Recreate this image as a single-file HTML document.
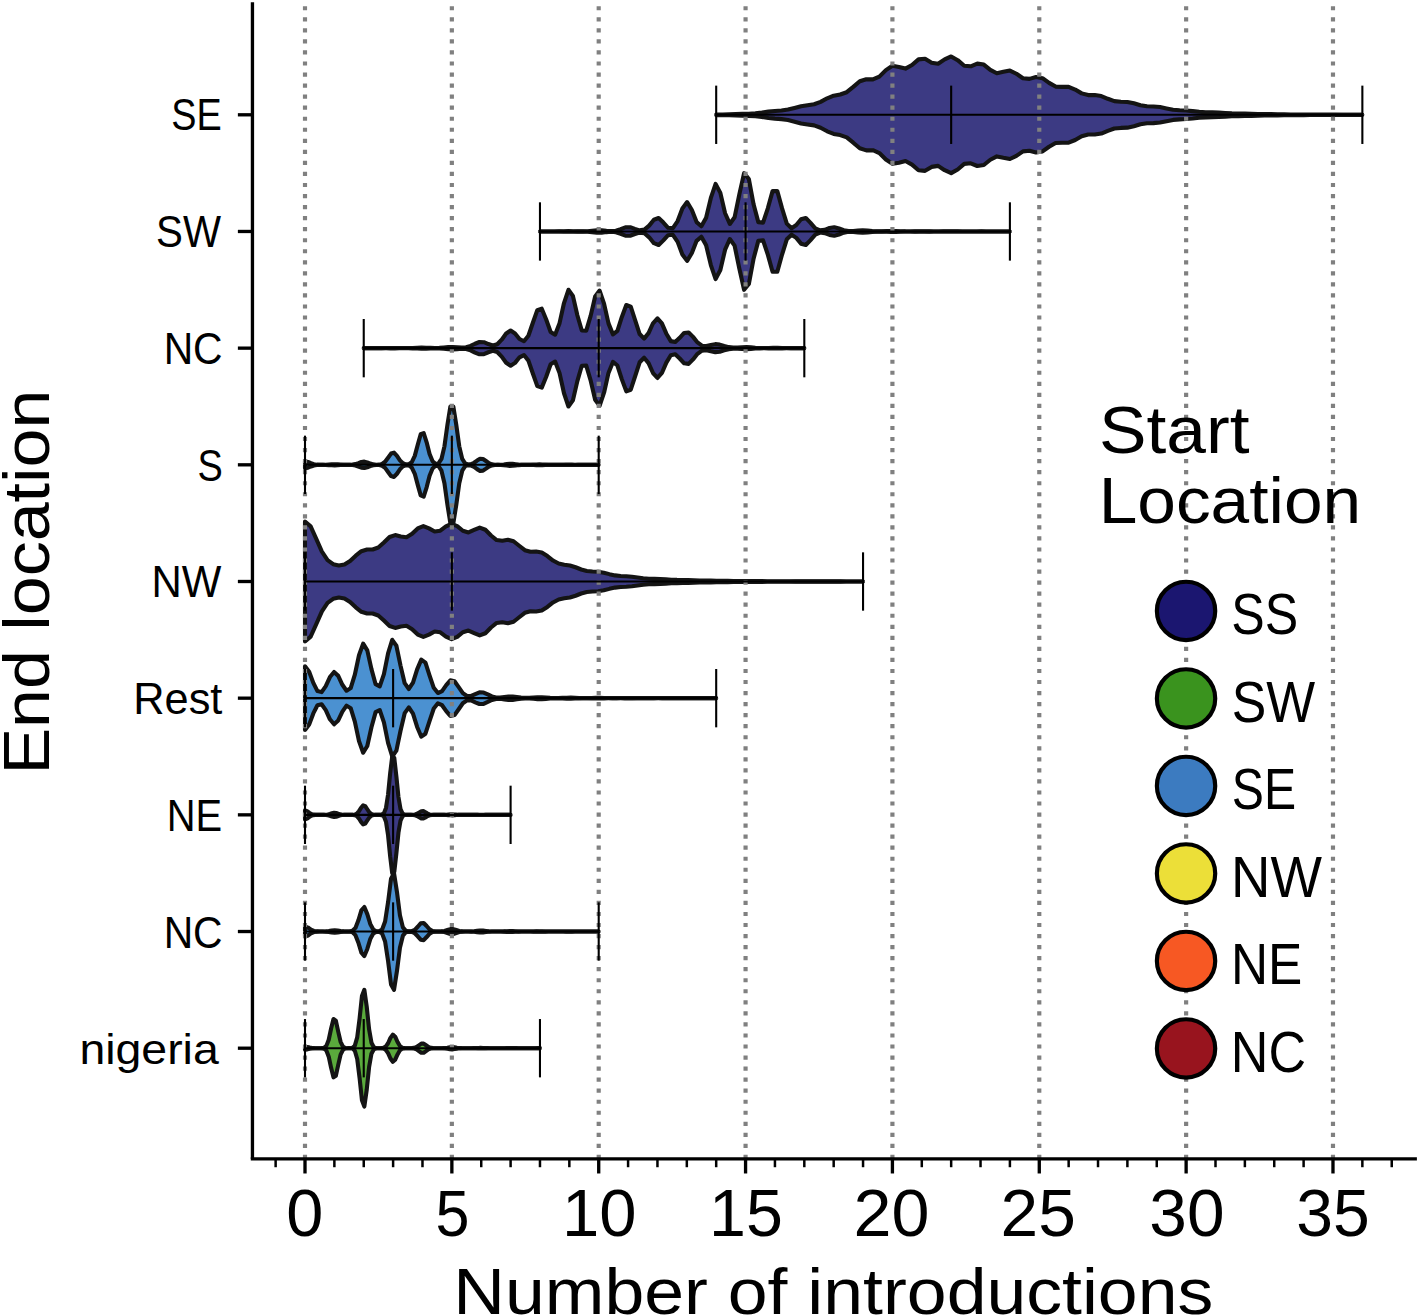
<!DOCTYPE html>
<html><head><meta charset="utf-8"><title>Violin plot</title>
<style>html,body{margin:0;padding:0;background:#fff;}svg{display:block;}</style></head>
<body><svg width="1417" height="1316" viewBox="0 0 1417 1316"><rect width="1417" height="1316" fill="#fff"/><g><path d="M716.19 114.5 L722.72 114.44 L729.25 114.33 L735.77 114.14 L742.3 113.92 L748.83 113.69 L755.36 113.3 L761.88 112.57 L768.41 111.65 L774.94 110.96 L781.46 110.48 L787.99 109.58 L794.52 107.91 L801.04 106.18 L807.57 105.18 L814.1 104.22 L820.62 101.85 L827.15 98.31 L833.68 95.68 L840.2 94.51 L846.73 92.21 L853.26 86.89 L859.79 81.28 L866.31 79.25 L872.84 79.42 L879.37 76.59 L885.89 70.1 L892.42 65.79 L898.95 66.95 L905.47 68.58 L912 65.02 L918.53 59.36 L925.05 58.73 L931.58 62.71 L938.11 63.74 L944.64 59.37 L951.16 56.46 L957.69 60.16 L964.22 65.75 L970.74 66.3 L977.27 63.6 L983.8 64.57 L990.32 69.88 L996.85 73.21 L1003.38 71.8 L1009.9 70.57 L1016.43 73.76 L1022.96 78.19 L1029.48 78.86 L1036.01 77.09 L1042.54 78.18 L1049.07 82.86 L1055.59 86.58 L1062.12 86.92 L1068.65 86.91 L1075.17 89.6 L1081.7 93.39 L1088.23 95.09 L1094.75 95.03 L1101.28 96.03 L1107.81 98.77 L1114.33 101.09 L1120.86 101.68 L1127.39 101.93 L1133.91 103.33 L1140.44 105.27 L1146.97 106.31 L1153.5 106.5 L1160.02 107.07 L1166.55 108.42 L1173.08 109.69 L1179.6 110.26 L1186.13 110.54 L1192.66 111.1 L1199.18 111.82 L1205.71 112.26 L1212.24 112.4 L1218.76 112.59 L1225.29 112.99 L1231.82 113.35 L1238.35 113.51 L1244.87 113.6 L1251.4 113.76 L1257.93 113.98 L1264.45 114.12 L1270.98 114.17 L1277.51 114.23 L1284.03 114.33 L1290.56 114.43 L1297.09 114.48 L1303.61 114.5 L1310.14 114.54 L1316.67 114.59 L1323.19 114.63 L1329.72 114.64 L1336.25 114.66 L1342.78 114.69 L1349.3 114.72 L1355.83 114.74 L1362.36 114.75 L1362.36 114.85 L1355.83 114.86 L1349.3 114.88 L1342.78 114.91 L1336.25 114.94 L1329.72 114.96 L1323.19 114.97 L1316.67 115.01 L1310.14 115.06 L1303.61 115.1 L1297.09 115.12 L1290.56 115.17 L1284.03 115.27 L1277.51 115.37 L1270.98 115.43 L1264.45 115.48 L1257.93 115.62 L1251.4 115.84 L1244.87 116 L1238.35 116.09 L1231.82 116.25 L1225.29 116.61 L1218.76 117.01 L1212.24 117.2 L1205.71 117.34 L1199.18 117.78 L1192.66 118.5 L1186.13 119.06 L1179.6 119.34 L1173.08 119.91 L1166.55 121.18 L1160.02 122.53 L1153.5 123.1 L1146.97 123.29 L1140.44 124.33 L1133.91 126.27 L1127.39 127.67 L1120.86 127.92 L1114.33 128.51 L1107.81 130.83 L1101.28 133.57 L1094.75 134.57 L1088.23 134.51 L1081.7 136.21 L1075.17 140 L1068.65 142.69 L1062.12 142.68 L1055.59 143.02 L1049.07 146.74 L1042.54 151.42 L1036.01 152.51 L1029.48 150.74 L1022.96 151.41 L1016.43 155.84 L1009.9 159.03 L1003.38 157.8 L996.85 156.39 L990.32 159.72 L983.8 165.03 L977.27 166 L970.74 163.3 L964.22 163.85 L957.69 169.44 L951.16 173.14 L944.64 170.23 L938.11 165.86 L931.58 166.89 L925.05 170.87 L918.53 170.24 L912 164.58 L905.47 161.02 L898.95 162.65 L892.42 163.81 L885.89 159.5 L879.37 153.01 L872.84 150.18 L866.31 150.35 L859.79 148.32 L853.26 142.71 L846.73 137.39 L840.2 135.09 L833.68 133.92 L827.15 131.29 L820.62 127.75 L814.1 125.38 L807.57 124.42 L801.04 123.42 L794.52 121.69 L787.99 120.02 L781.46 119.12 L774.94 118.64 L768.41 117.95 L761.88 117.03 L755.36 116.3 L748.83 115.91 L742.3 115.68 L735.77 115.46 L729.25 115.27 L722.72 115.16 L716.19 115.1Z" fill="#3c3a83"/><path d="M716.19 114.8 L716.19 114.5 L722.72 114.44 L729.25 114.33 L735.77 114.14 L742.3 113.92 L748.83 113.69 L755.36 113.3 L761.88 112.57 L768.41 111.65 L774.94 110.96 L781.46 110.48 L787.99 109.58 L794.52 107.91 L801.04 106.18 L807.57 105.18 L814.1 104.22 L820.62 101.85 L827.15 98.31 L833.68 95.68 L840.2 94.51 L846.73 92.21 L853.26 86.89 L859.79 81.28 L866.31 79.25 L872.84 79.42 L879.37 76.59 L885.89 70.1 L892.42 65.79 L898.95 66.95 L905.47 68.58 L912 65.02 L918.53 59.36 L925.05 58.73 L931.58 62.71 L938.11 63.74 L944.64 59.37 L951.16 56.46 L957.69 60.16 L964.22 65.75 L970.74 66.3 L977.27 63.6 L983.8 64.57 L990.32 69.88 L996.85 73.21 L1003.38 71.8 L1009.9 70.57 L1016.43 73.76 L1022.96 78.19 L1029.48 78.86 L1036.01 77.09 L1042.54 78.18 L1049.07 82.86 L1055.59 86.58 L1062.12 86.92 L1068.65 86.91 L1075.17 89.6 L1081.7 93.39 L1088.23 95.09 L1094.75 95.03 L1101.28 96.03 L1107.81 98.77 L1114.33 101.09 L1120.86 101.68 L1127.39 101.93 L1133.91 103.33 L1140.44 105.27 L1146.97 106.31 L1153.5 106.5 L1160.02 107.07 L1166.55 108.42 L1173.08 109.69 L1179.6 110.26 L1186.13 110.54 L1192.66 111.1 L1199.18 111.82 L1205.71 112.26 L1212.24 112.4 L1218.76 112.59 L1225.29 112.99 L1231.82 113.35 L1238.35 113.51 L1244.87 113.6 L1251.4 113.76 L1257.93 113.98 L1264.45 114.12 L1270.98 114.17 L1277.51 114.23 L1284.03 114.33 L1290.56 114.43 L1297.09 114.48 L1303.61 114.5 L1310.14 114.54 L1316.67 114.59 L1323.19 114.63 L1329.72 114.64 L1336.25 114.66 L1342.78 114.69 L1349.3 114.72 L1355.83 114.74 L1362.36 114.75 L1362.36 114.8" fill="none" stroke="#141414" stroke-width="4.1" stroke-linejoin="round"/><path d="M716.19 114.8 L716.19 115.1 L722.72 115.16 L729.25 115.27 L735.77 115.46 L742.3 115.68 L748.83 115.91 L755.36 116.3 L761.88 117.03 L768.41 117.95 L774.94 118.64 L781.46 119.12 L787.99 120.02 L794.52 121.69 L801.04 123.42 L807.57 124.42 L814.1 125.38 L820.62 127.75 L827.15 131.29 L833.68 133.92 L840.2 135.09 L846.73 137.39 L853.26 142.71 L859.79 148.32 L866.31 150.35 L872.84 150.18 L879.37 153.01 L885.89 159.5 L892.42 163.81 L898.95 162.65 L905.47 161.02 L912 164.58 L918.53 170.24 L925.05 170.87 L931.58 166.89 L938.11 165.86 L944.64 170.23 L951.16 173.14 L957.69 169.44 L964.22 163.85 L970.74 163.3 L977.27 166 L983.8 165.03 L990.32 159.72 L996.85 156.39 L1003.38 157.8 L1009.9 159.03 L1016.43 155.84 L1022.96 151.41 L1029.48 150.74 L1036.01 152.51 L1042.54 151.42 L1049.07 146.74 L1055.59 143.02 L1062.12 142.68 L1068.65 142.69 L1075.17 140 L1081.7 136.21 L1088.23 134.51 L1094.75 134.57 L1101.28 133.57 L1107.81 130.83 L1114.33 128.51 L1120.86 127.92 L1127.39 127.67 L1133.91 126.27 L1140.44 124.33 L1146.97 123.29 L1153.5 123.1 L1160.02 122.53 L1166.55 121.18 L1173.08 119.91 L1179.6 119.34 L1186.13 119.06 L1192.66 118.5 L1199.18 117.78 L1205.71 117.34 L1212.24 117.2 L1218.76 117.01 L1225.29 116.61 L1231.82 116.25 L1238.35 116.09 L1244.87 116 L1251.4 115.84 L1257.93 115.62 L1264.45 115.48 L1270.98 115.43 L1277.51 115.37 L1284.03 115.27 L1290.56 115.17 L1297.09 115.12 L1303.61 115.1 L1310.14 115.06 L1316.67 115.01 L1323.19 114.97 L1329.72 114.96 L1336.25 114.94 L1342.78 114.91 L1349.3 114.88 L1355.83 114.86 L1362.36 114.85 L1362.36 114.8" fill="none" stroke="#141414" stroke-width="4.1" stroke-linejoin="round"/><path d="M539.97 231.43 L544.71 231.44 L549.46 231.46 L554.21 231.45 L558.96 231.39 L563.7 231.27 L568.45 231.17 L573.2 231.22 L577.94 231.35 L582.69 231.39 L587.44 231.21 L592.18 230.74 L596.93 230.28 L601.68 230.36 L606.42 230.87 L611.17 231.16 L615.92 230.72 L620.66 229.19 L625.41 227.34 L630.16 227.19 L634.9 228.91 L639.65 230.35 L644.4 229.65 L649.15 225.63 L653.89 219.75 L658.64 217.99 L663.39 222.58 L668.13 227.76 L672.88 228.12 L677.63 221.07 L682.37 208.43 L687.12 202.05 L691.87 209.96 L696.61 222.09 L701.36 226.22 L706.11 217.66 L710.85 197.91 L715.6 183.9 L720.35 192.88 L725.09 213.26 L729.84 223.94 L734.59 217.31 L739.33 194.37 L744.08 173.13 L748.83 178.93 L753.58 204.28 L758.32 222.1 L763.07 222.6 L767.82 208.29 L772.56 191.15 L777.31 191.16 L782.06 208.39 L786.8 223.63 L791.55 228.22 L796.3 225.05 L801.04 219.28 L805.79 217.94 L810.54 222.88 L815.28 228.29 L820.03 230.4 L824.78 229.8 L829.52 228.02 L834.27 227.22 L839.02 228.47 L843.77 230.25 L848.51 231.11 L853.26 231.08 L858.01 230.61 L862.75 230.29 L867.5 230.55 L872.25 231.06 L876.99 231.34 L881.74 231.34 L886.49 231.14 L891.23 230.97 L895.98 231.04 L900.73 231.26 L905.47 231.41 L910.22 231.43 L914.97 231.36 L919.71 231.28 L924.46 231.28 L929.21 231.37 L933.95 231.44 L938.7 231.45 L943.45 231.42 L948.2 231.38 L952.94 231.38 L957.69 231.41 L962.44 231.45 L967.18 231.47 L971.93 231.45 L976.68 231.43 L981.42 231.42 L986.17 231.44 L990.92 231.46 L995.66 231.47 L1000.41 231.46 L1005.16 231.44 L1009.9 231.43 L1009.9 231.52 L1005.16 231.51 L1000.41 231.49 L995.66 231.48 L990.92 231.49 L986.17 231.51 L981.42 231.53 L976.68 231.52 L971.93 231.5 L967.18 231.48 L962.44 231.5 L957.69 231.54 L952.94 231.57 L948.2 231.57 L943.45 231.53 L938.7 231.5 L933.95 231.51 L929.21 231.58 L924.46 231.67 L919.71 231.67 L914.97 231.59 L910.22 231.52 L905.47 231.54 L900.73 231.69 L895.98 231.91 L891.23 231.98 L886.49 231.81 L881.74 231.61 L876.99 231.61 L872.25 231.89 L867.5 232.4 L862.75 232.66 L858.01 232.34 L853.26 231.87 L848.51 231.84 L843.77 232.7 L839.02 234.48 L834.27 235.73 L829.52 234.93 L824.78 233.15 L820.03 232.55 L815.28 234.66 L810.54 240.07 L805.79 245.01 L801.04 243.67 L796.3 237.9 L791.55 234.73 L786.8 239.32 L782.06 254.56 L777.31 271.79 L772.56 271.8 L767.82 254.66 L763.07 240.35 L758.32 240.85 L753.58 258.67 L748.83 284.02 L744.08 289.81 L739.33 268.58 L734.59 245.64 L729.84 239.01 L725.09 249.69 L720.35 270.07 L715.6 279.05 L710.85 265.04 L706.11 245.29 L701.36 236.73 L696.61 240.86 L691.87 252.99 L687.12 260.9 L682.37 254.52 L677.63 241.88 L672.88 234.83 L668.13 235.19 L663.39 240.37 L658.64 244.96 L653.89 243.2 L649.15 237.32 L644.4 233.3 L639.65 232.6 L634.9 234.04 L630.16 235.76 L625.41 235.61 L620.66 233.76 L615.92 232.23 L611.17 231.79 L606.42 232.08 L601.68 232.59 L596.93 232.67 L592.18 232.21 L587.44 231.74 L582.69 231.56 L577.94 231.6 L573.2 231.73 L568.45 231.78 L563.7 231.68 L558.96 231.56 L554.21 231.5 L549.46 231.49 L544.71 231.51 L539.97 231.52Z" fill="#3c3a83"/><path d="M539.97 231.47 L539.97 231.43 L544.71 231.44 L549.46 231.46 L554.21 231.45 L558.96 231.39 L563.7 231.27 L568.45 231.17 L573.2 231.22 L577.94 231.35 L582.69 231.39 L587.44 231.21 L592.18 230.74 L596.93 230.28 L601.68 230.36 L606.42 230.87 L611.17 231.16 L615.92 230.72 L620.66 229.19 L625.41 227.34 L630.16 227.19 L634.9 228.91 L639.65 230.35 L644.4 229.65 L649.15 225.63 L653.89 219.75 L658.64 217.99 L663.39 222.58 L668.13 227.76 L672.88 228.12 L677.63 221.07 L682.37 208.43 L687.12 202.05 L691.87 209.96 L696.61 222.09 L701.36 226.22 L706.11 217.66 L710.85 197.91 L715.6 183.9 L720.35 192.88 L725.09 213.26 L729.84 223.94 L734.59 217.31 L739.33 194.37 L744.08 173.13 L748.83 178.93 L753.58 204.28 L758.32 222.1 L763.07 222.6 L767.82 208.29 L772.56 191.15 L777.31 191.16 L782.06 208.39 L786.8 223.63 L791.55 228.22 L796.3 225.05 L801.04 219.28 L805.79 217.94 L810.54 222.88 L815.28 228.29 L820.03 230.4 L824.78 229.8 L829.52 228.02 L834.27 227.22 L839.02 228.47 L843.77 230.25 L848.51 231.11 L853.26 231.08 L858.01 230.61 L862.75 230.29 L867.5 230.55 L872.25 231.06 L876.99 231.34 L881.74 231.34 L886.49 231.14 L891.23 230.97 L895.98 231.04 L900.73 231.26 L905.47 231.41 L910.22 231.43 L914.97 231.36 L919.71 231.28 L924.46 231.28 L929.21 231.37 L933.95 231.44 L938.7 231.45 L943.45 231.42 L948.2 231.38 L952.94 231.38 L957.69 231.41 L962.44 231.45 L967.18 231.47 L971.93 231.45 L976.68 231.43 L981.42 231.42 L986.17 231.44 L990.92 231.46 L995.66 231.47 L1000.41 231.46 L1005.16 231.44 L1009.9 231.43 L1009.9 231.47" fill="none" stroke="#141414" stroke-width="4.1" stroke-linejoin="round"/><path d="M539.97 231.47 L539.97 231.52 L544.71 231.51 L549.46 231.49 L554.21 231.5 L558.96 231.56 L563.7 231.68 L568.45 231.78 L573.2 231.73 L577.94 231.6 L582.69 231.56 L587.44 231.74 L592.18 232.21 L596.93 232.67 L601.68 232.59 L606.42 232.08 L611.17 231.79 L615.92 232.23 L620.66 233.76 L625.41 235.61 L630.16 235.76 L634.9 234.04 L639.65 232.6 L644.4 233.3 L649.15 237.32 L653.89 243.2 L658.64 244.96 L663.39 240.37 L668.13 235.19 L672.88 234.83 L677.63 241.88 L682.37 254.52 L687.12 260.9 L691.87 252.99 L696.61 240.86 L701.36 236.73 L706.11 245.29 L710.85 265.04 L715.6 279.05 L720.35 270.07 L725.09 249.69 L729.84 239.01 L734.59 245.64 L739.33 268.58 L744.08 289.81 L748.83 284.02 L753.58 258.67 L758.32 240.85 L763.07 240.35 L767.82 254.66 L772.56 271.8 L777.31 271.79 L782.06 254.56 L786.8 239.32 L791.55 234.73 L796.3 237.9 L801.04 243.67 L805.79 245.01 L810.54 240.07 L815.28 234.66 L820.03 232.55 L824.78 233.15 L829.52 234.93 L834.27 235.73 L839.02 234.48 L843.77 232.7 L848.51 231.84 L853.26 231.87 L858.01 232.34 L862.75 232.66 L867.5 232.4 L872.25 231.89 L876.99 231.61 L881.74 231.61 L886.49 231.81 L891.23 231.98 L895.98 231.91 L900.73 231.69 L905.47 231.54 L910.22 231.52 L914.97 231.59 L919.71 231.67 L924.46 231.67 L929.21 231.58 L933.95 231.51 L938.7 231.5 L943.45 231.53 L948.2 231.57 L952.94 231.57 L957.69 231.54 L962.44 231.5 L967.18 231.48 L971.93 231.5 L976.68 231.52 L981.42 231.53 L986.17 231.51 L990.92 231.49 L995.66 231.48 L1000.41 231.49 L1005.16 231.51 L1009.9 231.52 L1009.9 231.47" fill="none" stroke="#141414" stroke-width="4.1" stroke-linejoin="round"/><path d="M363.74 348.1 L368.19 348.11 L372.64 348.12 L377.09 348.12 L381.54 348.09 L385.99 348.02 L390.44 347.96 L394.89 347.95 L399.34 348 L403.79 348.06 L408.24 348.05 L412.69 347.94 L417.14 347.76 L421.59 347.65 L426.04 347.7 L430.49 347.86 L434.94 347.95 L439.39 347.84 L443.84 347.48 L448.29 347.08 L452.75 346.95 L457.2 347.2 L461.65 347.49 L466.1 347.23 L470.55 345.94 L475 343.75 L479.45 342 L483.9 342.21 L488.35 344.05 L492.8 345.46 L497.25 344.29 L501.7 339.68 L506.15 333.55 L510.6 330.57 L515.05 333.45 L519.5 339.01 L523.95 341.22 L528.4 335.71 L532.85 322.76 L537.3 310.13 L541.75 308.67 L546.2 319.56 L550.65 332.04 L555.1 334.69 L559.55 323.18 L564 303.04 L568.45 289.81 L572.9 295.89 L577.35 315.21 L581.8 330.55 L586.25 330.68 L590.7 315.62 L595.15 296.57 L599.6 290.57 L604.05 303.61 L608.5 323.39 L612.95 334.37 L617.4 330.78 L621.85 316.94 L626.3 305 L630.75 306.59 L635.2 320.3 L639.65 334.02 L644.1 338.59 L648.55 333.13 L653 323.28 L657.45 318.33 L661.9 323.36 L666.35 333.68 L670.8 341.12 L675.25 342.03 L679.7 337.81 L684.15 332.97 L688.6 332.43 L693.05 336.88 L697.5 342.46 L701.95 345.67 L706.4 346.08 L710.85 345.01 L715.3 344.16 L719.75 344.59 L724.2 345.94 L728.65 347.15 L733.1 347.64 L737.55 347.55 L742 347.25 L746.46 347.15 L750.91 347.38 L755.36 347.73 L759.81 347.97 L764.26 348.01 L768.71 347.93 L773.16 347.85 L777.61 347.86 L782.06 347.96 L786.51 348.06 L790.96 348.11 L795.41 348.12 L799.86 348.11 L804.31 348.1 L804.31 348.2 L799.86 348.19 L795.41 348.18 L790.96 348.19 L786.51 348.24 L782.06 348.34 L777.61 348.44 L773.16 348.45 L768.71 348.37 L764.26 348.29 L759.81 348.33 L755.36 348.57 L750.91 348.92 L746.46 349.15 L742 349.05 L737.55 348.75 L733.1 348.66 L728.65 349.15 L724.2 350.36 L719.75 351.71 L715.3 352.14 L710.85 351.29 L706.4 350.22 L701.95 350.63 L697.5 353.84 L693.05 359.42 L688.6 363.87 L684.15 363.33 L679.7 358.49 L675.25 354.27 L670.8 355.18 L666.35 362.62 L661.9 372.94 L657.45 377.97 L653 373.02 L648.55 363.17 L644.1 357.71 L639.65 362.28 L635.2 376 L630.75 389.71 L626.3 391.3 L621.85 379.36 L617.4 365.52 L612.95 361.93 L608.5 372.91 L604.05 392.69 L599.6 405.73 L595.15 399.73 L590.7 380.68 L586.25 365.62 L581.8 365.75 L577.35 381.09 L572.9 400.41 L568.45 406.49 L564 393.26 L559.55 373.12 L555.1 361.61 L550.65 364.26 L546.2 376.74 L541.75 387.63 L537.3 386.17 L532.85 373.54 L528.4 360.59 L523.95 355.08 L519.5 357.29 L515.05 362.85 L510.6 365.73 L506.15 362.75 L501.7 356.62 L497.25 352.01 L492.8 350.84 L488.35 352.25 L483.9 354.09 L479.45 354.3 L475 352.55 L470.55 350.36 L466.1 349.07 L461.65 348.81 L457.2 349.1 L452.75 349.35 L448.29 349.22 L443.84 348.82 L439.39 348.46 L434.94 348.35 L430.49 348.44 L426.04 348.6 L421.59 348.65 L417.14 348.54 L412.69 348.36 L408.24 348.25 L403.79 348.24 L399.34 348.3 L394.89 348.35 L390.44 348.34 L385.99 348.28 L381.54 348.21 L377.09 348.18 L372.64 348.18 L368.19 348.19 L363.74 348.2Z" fill="#3c3a83"/><path d="M363.74 348.15 L363.74 348.1 L368.19 348.11 L372.64 348.12 L377.09 348.12 L381.54 348.09 L385.99 348.02 L390.44 347.96 L394.89 347.95 L399.34 348 L403.79 348.06 L408.24 348.05 L412.69 347.94 L417.14 347.76 L421.59 347.65 L426.04 347.7 L430.49 347.86 L434.94 347.95 L439.39 347.84 L443.84 347.48 L448.29 347.08 L452.75 346.95 L457.2 347.2 L461.65 347.49 L466.1 347.23 L470.55 345.94 L475 343.75 L479.45 342 L483.9 342.21 L488.35 344.05 L492.8 345.46 L497.25 344.29 L501.7 339.68 L506.15 333.55 L510.6 330.57 L515.05 333.45 L519.5 339.01 L523.95 341.22 L528.4 335.71 L532.85 322.76 L537.3 310.13 L541.75 308.67 L546.2 319.56 L550.65 332.04 L555.1 334.69 L559.55 323.18 L564 303.04 L568.45 289.81 L572.9 295.89 L577.35 315.21 L581.8 330.55 L586.25 330.68 L590.7 315.62 L595.15 296.57 L599.6 290.57 L604.05 303.61 L608.5 323.39 L612.95 334.37 L617.4 330.78 L621.85 316.94 L626.3 305 L630.75 306.59 L635.2 320.3 L639.65 334.02 L644.1 338.59 L648.55 333.13 L653 323.28 L657.45 318.33 L661.9 323.36 L666.35 333.68 L670.8 341.12 L675.25 342.03 L679.7 337.81 L684.15 332.97 L688.6 332.43 L693.05 336.88 L697.5 342.46 L701.95 345.67 L706.4 346.08 L710.85 345.01 L715.3 344.16 L719.75 344.59 L724.2 345.94 L728.65 347.15 L733.1 347.64 L737.55 347.55 L742 347.25 L746.46 347.15 L750.91 347.38 L755.36 347.73 L759.81 347.97 L764.26 348.01 L768.71 347.93 L773.16 347.85 L777.61 347.86 L782.06 347.96 L786.51 348.06 L790.96 348.11 L795.41 348.12 L799.86 348.11 L804.31 348.1 L804.31 348.15" fill="none" stroke="#141414" stroke-width="4.1" stroke-linejoin="round"/><path d="M363.74 348.15 L363.74 348.2 L368.19 348.19 L372.64 348.18 L377.09 348.18 L381.54 348.21 L385.99 348.28 L390.44 348.34 L394.89 348.35 L399.34 348.3 L403.79 348.24 L408.24 348.25 L412.69 348.36 L417.14 348.54 L421.59 348.65 L426.04 348.6 L430.49 348.44 L434.94 348.35 L439.39 348.46 L443.84 348.82 L448.29 349.22 L452.75 349.35 L457.2 349.1 L461.65 348.81 L466.1 349.07 L470.55 350.36 L475 352.55 L479.45 354.3 L483.9 354.09 L488.35 352.25 L492.8 350.84 L497.25 352.01 L501.7 356.62 L506.15 362.75 L510.6 365.73 L515.05 362.85 L519.5 357.29 L523.95 355.08 L528.4 360.59 L532.85 373.54 L537.3 386.17 L541.75 387.63 L546.2 376.74 L550.65 364.26 L555.1 361.61 L559.55 373.12 L564 393.26 L568.45 406.49 L572.9 400.41 L577.35 381.09 L581.8 365.75 L586.25 365.62 L590.7 380.68 L595.15 399.73 L599.6 405.73 L604.05 392.69 L608.5 372.91 L612.95 361.93 L617.4 365.52 L621.85 379.36 L626.3 391.3 L630.75 389.71 L635.2 376 L639.65 362.28 L644.1 357.71 L648.55 363.17 L653 373.02 L657.45 377.97 L661.9 372.94 L666.35 362.62 L670.8 355.18 L675.25 354.27 L679.7 358.49 L684.15 363.33 L688.6 363.87 L693.05 359.42 L697.5 353.84 L701.95 350.63 L706.4 350.22 L710.85 351.29 L715.3 352.14 L719.75 351.71 L724.2 350.36 L728.65 349.15 L733.1 348.66 L737.55 348.75 L742 349.05 L746.46 349.15 L750.91 348.92 L755.36 348.57 L759.81 348.33 L764.26 348.29 L768.71 348.37 L773.16 348.45 L777.61 348.44 L782.06 348.34 L786.51 348.24 L790.96 348.19 L795.41 348.18 L799.86 348.19 L804.31 348.2 L804.31 348.15" fill="none" stroke="#141414" stroke-width="4.1" stroke-linejoin="round"/><path d="M305 461.33 L307.97 461.94 L310.93 463.2 L313.9 464.2 L316.87 464.66 L319.83 464.79 L322.8 464.79 L325.77 464.72 L328.73 464.57 L331.7 464.39 L334.67 464.32 L337.63 464.42 L340.6 464.61 L343.57 464.74 L346.53 464.8 L349.5 464.78 L352.47 464.62 L355.44 464.12 L358.4 463.11 L361.37 462.01 L364.34 461.66 L367.3 462.41 L370.27 463.57 L373.24 464.38 L376.2 464.69 L379.17 464.63 L382.14 463.93 L385.1 461.77 L388.07 457.73 L391.04 453.58 L394 452.69 L396.97 455.89 L399.94 460.35 L402.9 463.29 L405.87 464.39 L408.84 464.2 L411.8 462.08 L414.77 455.85 L417.74 444.76 L420.7 434.23 L423.67 433.03 L426.64 442.31 L429.6 453.96 L432.57 461.23 L435.54 463.84 L438.5 463.44 L441.47 458.96 L444.44 446.35 L447.4 425.06 L450.37 406.49 L453.34 406.49 L456.31 425.06 L459.27 446.35 L462.24 458.97 L465.21 463.54 L468.17 464.49 L471.14 464.12 L474.11 462.75 L477.07 460.52 L480.04 458.75 L483.01 458.98 L485.97 460.99 L488.94 463.11 L491.91 464.3 L494.87 464.71 L497.84 464.78 L500.81 464.69 L503.77 464.45 L506.74 464.07 L509.71 463.81 L512.67 463.88 L515.64 464.23 L518.61 464.57 L521.57 464.75 L524.54 464.81 L527.51 464.81 L530.47 464.77 L533.44 464.66 L536.41 464.51 L539.37 464.42 L542.34 464.46 L545.31 464.6 L548.27 464.73 L551.24 464.8 L554.21 464.82 L557.18 464.82 L560.14 464.79 L563.11 464.74 L566.08 464.66 L569.04 464.62 L572.01 464.65 L574.98 464.72 L577.94 464.78 L580.91 464.81 L583.88 464.82 L586.84 464.82 L589.81 464.82 L592.78 464.8 L595.74 464.78 L598.71 464.78 L598.71 464.87 L595.74 464.87 L592.78 464.85 L589.81 464.83 L586.84 464.83 L583.88 464.83 L580.91 464.84 L577.94 464.87 L574.98 464.93 L572.01 465 L569.04 465.03 L566.08 464.99 L563.11 464.91 L560.14 464.86 L557.18 464.83 L554.21 464.83 L551.24 464.85 L548.27 464.92 L545.31 465.05 L542.34 465.19 L539.37 465.23 L536.41 465.14 L533.44 464.99 L530.47 464.88 L527.51 464.84 L524.54 464.84 L521.57 464.9 L518.61 465.08 L515.64 465.42 L512.67 465.77 L509.71 465.84 L506.74 465.58 L503.77 465.2 L500.81 464.96 L497.84 464.87 L494.87 464.94 L491.91 465.35 L488.94 466.54 L485.97 468.66 L483.01 470.67 L480.04 470.9 L477.07 469.13 L474.11 466.9 L471.14 465.53 L468.17 465.16 L465.21 466.11 L462.24 470.68 L459.27 483.3 L456.31 504.59 L453.34 523.16 L450.37 523.16 L447.4 504.59 L444.44 483.3 L441.47 470.69 L438.5 466.21 L435.54 465.81 L432.57 468.42 L429.6 475.69 L426.64 487.34 L423.67 496.62 L420.7 495.42 L417.74 484.89 L414.77 473.8 L411.8 467.57 L408.84 465.45 L405.87 465.26 L402.9 466.36 L399.94 469.3 L396.97 473.76 L394 476.96 L391.04 476.07 L388.07 471.92 L385.1 467.88 L382.14 465.72 L379.17 465.02 L376.2 464.96 L373.24 465.27 L370.27 466.08 L367.3 467.24 L364.34 467.99 L361.37 467.64 L358.4 466.54 L355.44 465.53 L352.47 465.03 L349.5 464.87 L346.53 464.85 L343.57 464.91 L340.6 465.04 L337.63 465.23 L334.67 465.33 L331.7 465.26 L328.73 465.08 L325.77 464.93 L322.8 464.86 L319.83 464.86 L316.87 464.99 L313.9 465.45 L310.93 466.45 L307.97 467.71 L305 468.32Z" fill="#4b91d1"/><path d="M305 464.82 L305 461.33 L307.97 461.94 L310.93 463.2 L313.9 464.2 L316.87 464.66 L319.83 464.79 L322.8 464.79 L325.77 464.72 L328.73 464.57 L331.7 464.39 L334.67 464.32 L337.63 464.42 L340.6 464.61 L343.57 464.74 L346.53 464.8 L349.5 464.78 L352.47 464.62 L355.44 464.12 L358.4 463.11 L361.37 462.01 L364.34 461.66 L367.3 462.41 L370.27 463.57 L373.24 464.38 L376.2 464.69 L379.17 464.63 L382.14 463.93 L385.1 461.77 L388.07 457.73 L391.04 453.58 L394 452.69 L396.97 455.89 L399.94 460.35 L402.9 463.29 L405.87 464.39 L408.84 464.2 L411.8 462.08 L414.77 455.85 L417.74 444.76 L420.7 434.23 L423.67 433.03 L426.64 442.31 L429.6 453.96 L432.57 461.23 L435.54 463.84 L438.5 463.44 L441.47 458.96 L444.44 446.35 L447.4 425.06 L450.37 406.49 L453.34 406.49 L456.31 425.06 L459.27 446.35 L462.24 458.97 L465.21 463.54 L468.17 464.49 L471.14 464.12 L474.11 462.75 L477.07 460.52 L480.04 458.75 L483.01 458.98 L485.97 460.99 L488.94 463.11 L491.91 464.3 L494.87 464.71 L497.84 464.78 L500.81 464.69 L503.77 464.45 L506.74 464.07 L509.71 463.81 L512.67 463.88 L515.64 464.23 L518.61 464.57 L521.57 464.75 L524.54 464.81 L527.51 464.81 L530.47 464.77 L533.44 464.66 L536.41 464.51 L539.37 464.42 L542.34 464.46 L545.31 464.6 L548.27 464.73 L551.24 464.8 L554.21 464.82 L557.18 464.82 L560.14 464.79 L563.11 464.74 L566.08 464.66 L569.04 464.62 L572.01 464.65 L574.98 464.72 L577.94 464.78 L580.91 464.81 L583.88 464.82 L586.84 464.82 L589.81 464.82 L592.78 464.8 L595.74 464.78 L598.71 464.78 L598.71 464.82" fill="none" stroke="#141414" stroke-width="4.1" stroke-linejoin="round"/><path d="M305 464.82 L305 468.32 L307.97 467.71 L310.93 466.45 L313.9 465.45 L316.87 464.99 L319.83 464.86 L322.8 464.86 L325.77 464.93 L328.73 465.08 L331.7 465.26 L334.67 465.33 L337.63 465.23 L340.6 465.04 L343.57 464.91 L346.53 464.85 L349.5 464.87 L352.47 465.03 L355.44 465.53 L358.4 466.54 L361.37 467.64 L364.34 467.99 L367.3 467.24 L370.27 466.08 L373.24 465.27 L376.2 464.96 L379.17 465.02 L382.14 465.72 L385.1 467.88 L388.07 471.92 L391.04 476.07 L394 476.96 L396.97 473.76 L399.94 469.3 L402.9 466.36 L405.87 465.26 L408.84 465.45 L411.8 467.57 L414.77 473.8 L417.74 484.89 L420.7 495.42 L423.67 496.62 L426.64 487.34 L429.6 475.69 L432.57 468.42 L435.54 465.81 L438.5 466.21 L441.47 470.69 L444.44 483.3 L447.4 504.59 L450.37 523.16 L453.34 523.16 L456.31 504.59 L459.27 483.3 L462.24 470.68 L465.21 466.11 L468.17 465.16 L471.14 465.53 L474.11 466.9 L477.07 469.13 L480.04 470.9 L483.01 470.67 L485.97 468.66 L488.94 466.54 L491.91 465.35 L494.87 464.94 L497.84 464.87 L500.81 464.96 L503.77 465.2 L506.74 465.58 L509.71 465.84 L512.67 465.77 L515.64 465.42 L518.61 465.08 L521.57 464.9 L524.54 464.84 L527.51 464.84 L530.47 464.88 L533.44 464.99 L536.41 465.14 L539.37 465.23 L542.34 465.19 L545.31 465.05 L548.27 464.92 L551.24 464.85 L554.21 464.83 L557.18 464.83 L560.14 464.86 L563.11 464.91 L566.08 464.99 L569.04 465.03 L572.01 465 L574.98 464.93 L577.94 464.87 L580.91 464.84 L583.88 464.83 L586.84 464.83 L589.81 464.83 L592.78 464.85 L595.74 464.87 L598.71 464.87 L598.71 464.82" fill="none" stroke="#141414" stroke-width="4.1" stroke-linejoin="round"/><path d="M305 521.54 L310.64 526.4 L316.27 538.8 L321.91 551.59 L327.55 560.09 L333.18 564.14 L338.82 565.4 L344.46 564.46 L350.09 560.93 L355.73 555.65 L361.37 551.21 L367.01 549.57 L372.64 549.44 L378.28 547.5 L383.92 542.42 L389.55 537.02 L395.19 535.08 L400.83 536.55 L406.46 537.21 L412.1 533.83 L417.74 528.45 L423.37 526.07 L429.01 528.4 L434.65 531.51 L440.28 530.69 L445.92 526.41 L451.56 523.78 L457.2 526.13 L462.83 530.76 L468.47 532.44 L474.11 529.97 L479.74 527.63 L485.38 529.78 L491.02 535.5 L496.65 540.03 L502.29 540.68 L507.93 539.76 L513.56 541.24 L519.2 545.74 L524.84 550.16 L530.47 551.78 L536.11 551.55 L541.75 552.53 L547.38 556.09 L553.02 560.55 L558.66 563.54 L564.3 564.67 L569.93 565.5 L575.57 567.25 L581.21 569.49 L586.84 571.02 L592.48 571.49 L598.12 571.75 L603.75 572.67 L609.39 574.14 L615.03 575.4 L620.66 576.01 L626.3 576.28 L631.94 576.75 L637.57 577.53 L643.21 578.29 L648.85 578.72 L654.49 578.9 L660.12 579.09 L665.76 579.42 L671.4 579.74 L677.03 579.91 L682.67 579.95 L688.31 580.02 L693.94 580.2 L699.58 580.44 L705.22 580.6 L710.85 580.66 L716.49 580.7 L722.13 580.79 L727.76 580.89 L733.4 580.97 L739.04 580.99 L744.67 580.99 L750.31 581.03 L755.95 581.1 L761.59 581.16 L767.22 581.18 L772.86 581.19 L778.5 581.21 L784.13 581.26 L789.77 581.31 L795.41 581.33 L801.04 581.34 L806.68 581.35 L812.32 581.37 L817.95 581.39 L823.59 581.4 L829.23 581.4 L834.86 581.4 L840.5 581.41 L846.14 581.43 L851.78 581.44 L857.41 581.45 L863.05 581.45 L863.05 581.55 L857.41 581.55 L851.78 581.56 L846.14 581.57 L840.5 581.59 L834.86 581.6 L829.23 581.6 L823.59 581.6 L817.95 581.61 L812.32 581.63 L806.68 581.65 L801.04 581.66 L795.41 581.67 L789.77 581.69 L784.13 581.74 L778.5 581.79 L772.86 581.81 L767.22 581.82 L761.59 581.84 L755.95 581.9 L750.31 581.97 L744.67 582.01 L739.04 582.01 L733.4 582.03 L727.76 582.11 L722.13 582.21 L716.49 582.3 L710.85 582.34 L705.22 582.4 L699.58 582.56 L693.94 582.8 L688.31 582.98 L682.67 583.05 L677.03 583.09 L671.4 583.26 L665.76 583.58 L660.12 583.91 L654.49 584.1 L648.85 584.28 L643.21 584.71 L637.57 585.47 L631.94 586.25 L626.3 586.72 L620.66 586.99 L615.03 587.6 L609.39 588.86 L603.75 590.33 L598.12 591.25 L592.48 591.51 L586.84 591.98 L581.21 593.51 L575.57 595.75 L569.93 597.5 L564.3 598.33 L558.66 599.46 L553.02 602.45 L547.38 606.91 L541.75 610.47 L536.11 611.45 L530.47 611.22 L524.84 612.84 L519.2 617.26 L513.56 621.76 L507.93 623.24 L502.29 622.32 L496.65 622.97 L491.02 627.5 L485.38 633.22 L479.74 635.37 L474.11 633.03 L468.47 630.56 L462.83 632.24 L457.2 636.87 L451.56 639.22 L445.92 636.59 L440.28 632.31 L434.65 631.49 L429.01 634.6 L423.37 636.93 L417.74 634.55 L412.1 629.17 L406.46 625.79 L400.83 626.45 L395.19 627.92 L389.55 625.98 L383.92 620.58 L378.28 615.5 L372.64 613.56 L367.01 613.43 L361.37 611.79 L355.73 607.35 L350.09 602.07 L344.46 598.54 L338.82 597.6 L333.18 598.86 L327.55 602.91 L321.91 611.41 L316.27 624.2 L310.64 636.6 L305 641.46Z" fill="#3c3a83"/><path d="M305 581.5 L305 521.54 L310.64 526.4 L316.27 538.8 L321.91 551.59 L327.55 560.09 L333.18 564.14 L338.82 565.4 L344.46 564.46 L350.09 560.93 L355.73 555.65 L361.37 551.21 L367.01 549.57 L372.64 549.44 L378.28 547.5 L383.92 542.42 L389.55 537.02 L395.19 535.08 L400.83 536.55 L406.46 537.21 L412.1 533.83 L417.74 528.45 L423.37 526.07 L429.01 528.4 L434.65 531.51 L440.28 530.69 L445.92 526.41 L451.56 523.78 L457.2 526.13 L462.83 530.76 L468.47 532.44 L474.11 529.97 L479.74 527.63 L485.38 529.78 L491.02 535.5 L496.65 540.03 L502.29 540.68 L507.93 539.76 L513.56 541.24 L519.2 545.74 L524.84 550.16 L530.47 551.78 L536.11 551.55 L541.75 552.53 L547.38 556.09 L553.02 560.55 L558.66 563.54 L564.3 564.67 L569.93 565.5 L575.57 567.25 L581.21 569.49 L586.84 571.02 L592.48 571.49 L598.12 571.75 L603.75 572.67 L609.39 574.14 L615.03 575.4 L620.66 576.01 L626.3 576.28 L631.94 576.75 L637.57 577.53 L643.21 578.29 L648.85 578.72 L654.49 578.9 L660.12 579.09 L665.76 579.42 L671.4 579.74 L677.03 579.91 L682.67 579.95 L688.31 580.02 L693.94 580.2 L699.58 580.44 L705.22 580.6 L710.85 580.66 L716.49 580.7 L722.13 580.79 L727.76 580.89 L733.4 580.97 L739.04 580.99 L744.67 580.99 L750.31 581.03 L755.95 581.1 L761.59 581.16 L767.22 581.18 L772.86 581.19 L778.5 581.21 L784.13 581.26 L789.77 581.31 L795.41 581.33 L801.04 581.34 L806.68 581.35 L812.32 581.37 L817.95 581.39 L823.59 581.4 L829.23 581.4 L834.86 581.4 L840.5 581.41 L846.14 581.43 L851.78 581.44 L857.41 581.45 L863.05 581.45 L863.05 581.5" fill="none" stroke="#141414" stroke-width="4.1" stroke-linejoin="round"/><path d="M305 581.5 L305 641.46 L310.64 636.6 L316.27 624.2 L321.91 611.41 L327.55 602.91 L333.18 598.86 L338.82 597.6 L344.46 598.54 L350.09 602.07 L355.73 607.35 L361.37 611.79 L367.01 613.43 L372.64 613.56 L378.28 615.5 L383.92 620.58 L389.55 625.98 L395.19 627.92 L400.83 626.45 L406.46 625.79 L412.1 629.17 L417.74 634.55 L423.37 636.93 L429.01 634.6 L434.65 631.49 L440.28 632.31 L445.92 636.59 L451.56 639.22 L457.2 636.87 L462.83 632.24 L468.47 630.56 L474.11 633.03 L479.74 635.37 L485.38 633.22 L491.02 627.5 L496.65 622.97 L502.29 622.32 L507.93 623.24 L513.56 621.76 L519.2 617.26 L524.84 612.84 L530.47 611.22 L536.11 611.45 L541.75 610.47 L547.38 606.91 L553.02 602.45 L558.66 599.46 L564.3 598.33 L569.93 597.5 L575.57 595.75 L581.21 593.51 L586.84 591.98 L592.48 591.51 L598.12 591.25 L603.75 590.33 L609.39 588.86 L615.03 587.6 L620.66 586.99 L626.3 586.72 L631.94 586.25 L637.57 585.47 L643.21 584.71 L648.85 584.28 L654.49 584.1 L660.12 583.91 L665.76 583.58 L671.4 583.26 L677.03 583.09 L682.67 583.05 L688.31 582.98 L693.94 582.8 L699.58 582.56 L705.22 582.4 L710.85 582.34 L716.49 582.3 L722.13 582.21 L727.76 582.11 L733.4 582.03 L739.04 582.01 L744.67 582.01 L750.31 581.97 L755.95 581.9 L761.59 581.84 L767.22 581.82 L772.86 581.81 L778.5 581.79 L784.13 581.74 L789.77 581.69 L795.41 581.67 L801.04 581.66 L806.68 581.65 L812.32 581.63 L817.95 581.61 L823.59 581.6 L829.23 581.6 L834.86 581.6 L840.5 581.59 L846.14 581.57 L851.78 581.56 L857.41 581.55 L863.05 581.55 L863.05 581.5" fill="none" stroke="#141414" stroke-width="4.1" stroke-linejoin="round"/><path d="M305 666.31 L309.15 671.73 L313.31 682.91 L317.46 691.1 L321.61 692.12 L325.77 686.18 L329.92 677.05 L334.07 672.04 L338.23 675.88 L342.38 684.76 L346.53 690.73 L350.69 688.12 L354.84 674.72 L359 655.24 L363.15 643.59 L367.3 650.39 L371.46 669.11 L375.61 684.2 L379.76 686.31 L383.92 674.04 L388.07 653.46 L392.22 639.83 L396.38 645.74 L400.53 665.6 L404.68 683.18 L408.84 688.99 L412.99 682.68 L417.14 669.38 L421.3 659.65 L425.45 662.63 L429.6 675.54 L433.76 687.82 L437.91 693.02 L442.06 691.13 L446.22 685.17 L450.37 680.36 L454.53 681.29 L458.68 687.15 L462.83 693.09 L466.99 695.99 L471.14 695.86 L475.29 694.03 L479.45 692.36 L483.6 692.52 L487.75 694.38 L491.91 696.39 L496.06 697.45 L500.21 697.51 L504.37 697 L508.52 696.49 L512.67 696.49 L516.83 697.02 L520.98 697.61 L525.13 697.9 L529.29 697.84 L533.44 697.52 L537.59 697.2 L541.75 697.18 L545.9 697.47 L550.06 697.82 L554.21 698.02 L558.36 698.01 L562.52 697.86 L566.67 697.7 L570.82 697.67 L574.98 697.81 L579.13 697.99 L583.28 698.09 L587.44 698.08 L591.59 698 L595.74 697.89 L599.9 697.87 L604.05 697.95 L608.2 698.06 L612.36 698.12 L616.51 698.12 L620.66 698.06 L624.82 697.99 L628.97 697.97 L633.12 698.02 L637.28 698.09 L641.43 698.14 L645.58 698.15 L649.74 698.12 L653.89 698.09 L658.05 698.07 L662.2 698.1 L666.35 698.13 L670.51 698.16 L674.66 698.16 L678.81 698.15 L682.97 698.13 L687.12 698.13 L691.27 698.13 L695.43 698.15 L699.58 698.16 L703.73 698.16 L707.89 698.15 L712.04 698.13 L716.19 698.13 L716.19 698.22 L712.04 698.22 L707.89 698.2 L703.73 698.19 L699.58 698.19 L695.43 698.2 L691.27 698.22 L687.12 698.22 L682.97 698.22 L678.81 698.2 L674.66 698.19 L670.51 698.19 L666.35 698.22 L662.2 698.25 L658.05 698.28 L653.89 698.26 L649.74 698.23 L645.58 698.2 L641.43 698.21 L637.28 698.26 L633.12 698.33 L628.97 698.38 L624.82 698.36 L620.66 698.29 L616.51 698.23 L612.36 698.23 L608.2 698.29 L604.05 698.4 L599.9 698.48 L595.74 698.46 L591.59 698.35 L587.44 698.27 L583.28 698.26 L579.13 698.36 L574.98 698.54 L570.82 698.68 L566.67 698.65 L562.52 698.49 L558.36 698.34 L554.21 698.33 L550.06 698.53 L545.9 698.88 L541.75 699.17 L537.59 699.15 L533.44 698.83 L529.29 698.51 L525.13 698.45 L520.98 698.74 L516.83 699.33 L512.67 699.86 L508.52 699.86 L504.37 699.35 L500.21 698.84 L496.06 698.9 L491.91 699.96 L487.75 701.97 L483.6 703.83 L479.45 703.99 L475.29 702.32 L471.14 700.49 L466.99 700.36 L462.83 703.26 L458.68 709.2 L454.53 715.06 L450.37 715.99 L446.22 711.18 L442.06 705.22 L437.91 703.33 L433.76 708.53 L429.6 720.81 L425.45 733.72 L421.3 736.7 L417.14 726.97 L412.99 713.67 L408.84 707.36 L404.68 713.17 L400.53 730.75 L396.38 750.61 L392.22 756.51 L388.07 742.89 L383.92 722.31 L379.76 710.04 L375.61 712.15 L371.46 727.24 L367.3 745.96 L363.15 752.76 L359 741.11 L354.84 721.63 L350.69 708.23 L346.53 705.62 L342.38 711.59 L338.23 720.47 L334.07 724.31 L329.92 719.3 L325.77 710.17 L321.61 704.23 L317.46 705.25 L313.31 713.44 L309.15 724.62 L305 730.04Z" fill="#4b91d1"/><path d="M305 698.17 L305 666.31 L309.15 671.73 L313.31 682.91 L317.46 691.1 L321.61 692.12 L325.77 686.18 L329.92 677.05 L334.07 672.04 L338.23 675.88 L342.38 684.76 L346.53 690.73 L350.69 688.12 L354.84 674.72 L359 655.24 L363.15 643.59 L367.3 650.39 L371.46 669.11 L375.61 684.2 L379.76 686.31 L383.92 674.04 L388.07 653.46 L392.22 639.83 L396.38 645.74 L400.53 665.6 L404.68 683.18 L408.84 688.99 L412.99 682.68 L417.14 669.38 L421.3 659.65 L425.45 662.63 L429.6 675.54 L433.76 687.82 L437.91 693.02 L442.06 691.13 L446.22 685.17 L450.37 680.36 L454.53 681.29 L458.68 687.15 L462.83 693.09 L466.99 695.99 L471.14 695.86 L475.29 694.03 L479.45 692.36 L483.6 692.52 L487.75 694.38 L491.91 696.39 L496.06 697.45 L500.21 697.51 L504.37 697 L508.52 696.49 L512.67 696.49 L516.83 697.02 L520.98 697.61 L525.13 697.9 L529.29 697.84 L533.44 697.52 L537.59 697.2 L541.75 697.18 L545.9 697.47 L550.06 697.82 L554.21 698.02 L558.36 698.01 L562.52 697.86 L566.67 697.7 L570.82 697.67 L574.98 697.81 L579.13 697.99 L583.28 698.09 L587.44 698.08 L591.59 698 L595.74 697.89 L599.9 697.87 L604.05 697.95 L608.2 698.06 L612.36 698.12 L616.51 698.12 L620.66 698.06 L624.82 697.99 L628.97 697.97 L633.12 698.02 L637.28 698.09 L641.43 698.14 L645.58 698.15 L649.74 698.12 L653.89 698.09 L658.05 698.07 L662.2 698.1 L666.35 698.13 L670.51 698.16 L674.66 698.16 L678.81 698.15 L682.97 698.13 L687.12 698.13 L691.27 698.13 L695.43 698.15 L699.58 698.16 L703.73 698.16 L707.89 698.15 L712.04 698.13 L716.19 698.13 L716.19 698.17" fill="none" stroke="#141414" stroke-width="4.1" stroke-linejoin="round"/><path d="M305 698.17 L305 730.04 L309.15 724.62 L313.31 713.44 L317.46 705.25 L321.61 704.23 L325.77 710.17 L329.92 719.3 L334.07 724.31 L338.23 720.47 L342.38 711.59 L346.53 705.62 L350.69 708.23 L354.84 721.63 L359 741.11 L363.15 752.76 L367.3 745.96 L371.46 727.24 L375.61 712.15 L379.76 710.04 L383.92 722.31 L388.07 742.89 L392.22 756.51 L396.38 750.61 L400.53 730.75 L404.68 713.17 L408.84 707.36 L412.99 713.67 L417.14 726.97 L421.3 736.7 L425.45 733.72 L429.6 720.81 L433.76 708.53 L437.91 703.33 L442.06 705.22 L446.22 711.18 L450.37 715.99 L454.53 715.06 L458.68 709.2 L462.83 703.26 L466.99 700.36 L471.14 700.49 L475.29 702.32 L479.45 703.99 L483.6 703.83 L487.75 701.97 L491.91 699.96 L496.06 698.9 L500.21 698.84 L504.37 699.35 L508.52 699.86 L512.67 699.86 L516.83 699.33 L520.98 698.74 L525.13 698.45 L529.29 698.51 L533.44 698.83 L537.59 699.15 L541.75 699.17 L545.9 698.88 L550.06 698.53 L554.21 698.33 L558.36 698.34 L562.52 698.49 L566.67 698.65 L570.82 698.68 L574.98 698.54 L579.13 698.36 L583.28 698.26 L587.44 698.27 L591.59 698.35 L595.74 698.46 L599.9 698.48 L604.05 698.4 L608.2 698.29 L612.36 698.23 L616.51 698.23 L620.66 698.29 L624.82 698.36 L628.97 698.38 L633.12 698.33 L637.28 698.26 L641.43 698.21 L645.58 698.2 L649.74 698.23 L653.89 698.26 L658.05 698.28 L662.2 698.25 L666.35 698.22 L670.51 698.19 L674.66 698.19 L678.81 698.2 L682.97 698.22 L687.12 698.22 L691.27 698.22 L695.43 698.2 L699.58 698.19 L703.73 698.19 L707.89 698.2 L712.04 698.22 L716.19 698.22 L716.19 698.17" fill="none" stroke="#141414" stroke-width="4.1" stroke-linejoin="round"/><path d="M305 810.31 L307.08 811.08 L309.15 812.68 L311.23 813.98 L313.31 814.61 L315.38 814.8 L317.46 814.84 L319.54 814.85 L321.61 814.85 L323.69 814.83 L325.77 814.76 L327.84 814.51 L329.92 813.94 L332 813.19 L334.07 812.74 L336.15 813 L338.23 813.73 L340.3 814.38 L342.38 814.71 L344.46 814.82 L346.53 814.85 L348.61 814.85 L350.69 814.84 L352.76 814.79 L354.84 814.52 L356.92 813.53 L359 811.17 L361.07 807.75 L363.15 805.37 L365.23 806.09 L367.3 809.25 L369.38 812.37 L371.46 814.09 L373.53 814.69 L375.61 814.83 L377.69 814.85 L379.76 814.82 L381.84 814.58 L383.92 813.22 L385.99 807.91 L388.07 794.47 L390.15 773.4 L392.22 756.51 L394.3 758.02 L396.38 776.54 L398.45 796.98 L400.53 809.08 L402.61 813.56 L404.68 814.65 L406.76 814.83 L408.84 814.85 L410.91 814.84 L412.99 814.77 L415.07 814.49 L417.14 813.72 L419.22 812.43 L421.3 811.26 L423.37 811.16 L425.45 812.23 L427.53 813.56 L429.6 814.41 L431.68 814.75 L433.76 814.83 L435.83 814.85 L437.91 814.85 L439.99 814.85 L442.06 814.84 L444.14 814.81 L446.22 814.72 L448.29 814.55 L450.37 814.38 L452.45 814.35 L454.53 814.47 L456.6 814.65 L458.68 814.78 L460.76 814.83 L462.83 814.85 L464.91 814.85 L466.99 814.85 L469.06 814.85 L471.14 814.85 L473.22 814.84 L475.29 814.83 L477.37 814.8 L479.45 814.76 L481.52 814.75 L483.6 814.77 L485.68 814.81 L487.75 814.83 L489.83 814.85 L491.91 814.85 L493.98 814.85 L496.06 814.85 L498.14 814.85 L500.21 814.85 L502.29 814.85 L504.37 814.84 L506.44 814.83 L508.52 814.81 L510.6 814.8 L510.6 814.9 L508.52 814.89 L506.44 814.87 L504.37 814.86 L502.29 814.85 L500.21 814.85 L498.14 814.85 L496.06 814.85 L493.98 814.85 L491.91 814.85 L489.83 814.85 L487.75 814.87 L485.68 814.89 L483.6 814.93 L481.52 814.95 L479.45 814.94 L477.37 814.9 L475.29 814.87 L473.22 814.86 L471.14 814.85 L469.06 814.85 L466.99 814.85 L464.91 814.85 L462.83 814.85 L460.76 814.87 L458.68 814.92 L456.6 815.05 L454.53 815.23 L452.45 815.35 L450.37 815.32 L448.29 815.15 L446.22 814.98 L444.14 814.89 L442.06 814.86 L439.99 814.85 L437.91 814.85 L435.83 814.85 L433.76 814.87 L431.68 814.95 L429.6 815.29 L427.53 816.14 L425.45 817.47 L423.37 818.54 L421.3 818.44 L419.22 817.27 L417.14 815.98 L415.07 815.21 L412.99 814.93 L410.91 814.86 L408.84 814.85 L406.76 814.87 L404.68 815.05 L402.61 816.14 L400.53 820.62 L398.45 832.72 L396.38 853.16 L394.3 871.68 L392.22 873.19 L390.15 856.3 L388.07 835.23 L385.99 821.79 L383.92 816.48 L381.84 815.12 L379.76 814.88 L377.69 814.85 L375.61 814.87 L373.53 815.01 L371.46 815.61 L369.38 817.33 L367.3 820.45 L365.23 823.61 L363.15 824.33 L361.07 821.95 L359 818.53 L356.92 816.17 L354.84 815.18 L352.76 814.91 L350.69 814.86 L348.61 814.85 L346.53 814.85 L344.46 814.88 L342.38 814.99 L340.3 815.32 L338.23 815.97 L336.15 816.7 L334.07 816.96 L332 816.51 L329.92 815.76 L327.84 815.19 L325.77 814.94 L323.69 814.87 L321.61 814.85 L319.54 814.85 L317.46 814.86 L315.38 814.9 L313.31 815.09 L311.23 815.72 L309.15 817.02 L307.08 818.62 L305 819.39Z" fill="#3c3a83"/><path d="M305 814.85 L305 810.31 L307.08 811.08 L309.15 812.68 L311.23 813.98 L313.31 814.61 L315.38 814.8 L317.46 814.84 L319.54 814.85 L321.61 814.85 L323.69 814.83 L325.77 814.76 L327.84 814.51 L329.92 813.94 L332 813.19 L334.07 812.74 L336.15 813 L338.23 813.73 L340.3 814.38 L342.38 814.71 L344.46 814.82 L346.53 814.85 L348.61 814.85 L350.69 814.84 L352.76 814.79 L354.84 814.52 L356.92 813.53 L359 811.17 L361.07 807.75 L363.15 805.37 L365.23 806.09 L367.3 809.25 L369.38 812.37 L371.46 814.09 L373.53 814.69 L375.61 814.83 L377.69 814.85 L379.76 814.82 L381.84 814.58 L383.92 813.22 L385.99 807.91 L388.07 794.47 L390.15 773.4 L392.22 756.51 L394.3 758.02 L396.38 776.54 L398.45 796.98 L400.53 809.08 L402.61 813.56 L404.68 814.65 L406.76 814.83 L408.84 814.85 L410.91 814.84 L412.99 814.77 L415.07 814.49 L417.14 813.72 L419.22 812.43 L421.3 811.26 L423.37 811.16 L425.45 812.23 L427.53 813.56 L429.6 814.41 L431.68 814.75 L433.76 814.83 L435.83 814.85 L437.91 814.85 L439.99 814.85 L442.06 814.84 L444.14 814.81 L446.22 814.72 L448.29 814.55 L450.37 814.38 L452.45 814.35 L454.53 814.47 L456.6 814.65 L458.68 814.78 L460.76 814.83 L462.83 814.85 L464.91 814.85 L466.99 814.85 L469.06 814.85 L471.14 814.85 L473.22 814.84 L475.29 814.83 L477.37 814.8 L479.45 814.76 L481.52 814.75 L483.6 814.77 L485.68 814.81 L487.75 814.83 L489.83 814.85 L491.91 814.85 L493.98 814.85 L496.06 814.85 L498.14 814.85 L500.21 814.85 L502.29 814.85 L504.37 814.84 L506.44 814.83 L508.52 814.81 L510.6 814.8 L510.6 814.85" fill="none" stroke="#141414" stroke-width="4.1" stroke-linejoin="round"/><path d="M305 814.85 L305 819.39 L307.08 818.62 L309.15 817.02 L311.23 815.72 L313.31 815.09 L315.38 814.9 L317.46 814.86 L319.54 814.85 L321.61 814.85 L323.69 814.87 L325.77 814.94 L327.84 815.19 L329.92 815.76 L332 816.51 L334.07 816.96 L336.15 816.7 L338.23 815.97 L340.3 815.32 L342.38 814.99 L344.46 814.88 L346.53 814.85 L348.61 814.85 L350.69 814.86 L352.76 814.91 L354.84 815.18 L356.92 816.17 L359 818.53 L361.07 821.95 L363.15 824.33 L365.23 823.61 L367.3 820.45 L369.38 817.33 L371.46 815.61 L373.53 815.01 L375.61 814.87 L377.69 814.85 L379.76 814.88 L381.84 815.12 L383.92 816.48 L385.99 821.79 L388.07 835.23 L390.15 856.3 L392.22 873.19 L394.3 871.68 L396.38 853.16 L398.45 832.72 L400.53 820.62 L402.61 816.14 L404.68 815.05 L406.76 814.87 L408.84 814.85 L410.91 814.86 L412.99 814.93 L415.07 815.21 L417.14 815.98 L419.22 817.27 L421.3 818.44 L423.37 818.54 L425.45 817.47 L427.53 816.14 L429.6 815.29 L431.68 814.95 L433.76 814.87 L435.83 814.85 L437.91 814.85 L439.99 814.85 L442.06 814.86 L444.14 814.89 L446.22 814.98 L448.29 815.15 L450.37 815.32 L452.45 815.35 L454.53 815.23 L456.6 815.05 L458.68 814.92 L460.76 814.87 L462.83 814.85 L464.91 814.85 L466.99 814.85 L469.06 814.85 L471.14 814.85 L473.22 814.86 L475.29 814.87 L477.37 814.9 L479.45 814.94 L481.52 814.95 L483.6 814.93 L485.68 814.89 L487.75 814.87 L489.83 814.85 L491.91 814.85 L493.98 814.85 L496.06 814.85 L498.14 814.85 L500.21 814.85 L502.29 814.85 L504.37 814.86 L506.44 814.87 L508.52 814.89 L510.6 814.9 L510.6 814.85" fill="none" stroke="#141414" stroke-width="4.1" stroke-linejoin="round"/><path d="M305 926.44 L307.97 927.55 L310.93 929.62 L313.9 930.96 L316.87 931.42 L319.83 931.51 L322.8 931.5 L325.77 931.37 L328.73 931.03 L331.7 930.54 L334.67 930.33 L337.63 930.63 L340.6 931.12 L343.57 931.41 L346.53 931.5 L349.5 931.44 L352.47 930.8 L355.44 927.9 L358.4 920.33 L361.37 910.35 L364.34 907 L367.3 914.12 L370.27 923.96 L373.24 929.51 L376.2 931.18 L379.17 931.23 L382.14 929.44 L385.1 921.53 L388.07 902.15 L391.04 878.63 L394 873.18 L396.97 892.11 L399.94 915.21 L402.9 927.39 L405.87 930.88 L408.84 931.41 L411.8 931.15 L414.77 929.82 L417.74 926.76 L420.7 923.36 L423.67 922.95 L426.64 926.01 L429.6 929.35 L432.57 931 L435.54 931.45 L438.5 931.5 L441.47 931.4 L444.44 930.96 L447.4 930.03 L450.37 929.08 L453.34 929.08 L456.31 930.03 L459.27 930.96 L462.24 931.4 L465.21 931.51 L468.17 931.51 L471.14 931.46 L474.11 931.27 L477.07 930.88 L480.04 930.53 L483.01 930.58 L485.97 930.97 L488.94 931.33 L491.91 931.48 L494.87 931.52 L497.84 931.52 L500.81 931.49 L503.77 931.38 L506.74 931.19 L509.71 931.02 L512.67 931.07 L515.64 931.27 L518.61 931.44 L521.57 931.51 L524.54 931.52 L527.51 931.52 L530.47 931.51 L533.44 931.46 L536.41 931.38 L539.37 931.32 L542.34 931.35 L545.31 931.43 L548.27 931.5 L551.24 931.52 L554.21 931.52 L557.18 931.52 L560.14 931.52 L563.11 931.49 L566.08 931.45 L569.04 931.43 L572.01 931.44 L574.98 931.48 L577.94 931.51 L580.91 931.52 L583.88 931.52 L586.84 931.52 L589.81 931.52 L592.78 931.51 L595.74 931.49 L598.71 931.48 L598.71 931.57 L595.74 931.56 L592.78 931.54 L589.81 931.53 L586.84 931.53 L583.88 931.53 L580.91 931.53 L577.94 931.54 L574.98 931.57 L572.01 931.61 L569.04 931.62 L566.08 931.6 L563.11 931.56 L560.14 931.53 L557.18 931.53 L554.21 931.53 L551.24 931.53 L548.27 931.55 L545.31 931.62 L542.34 931.7 L539.37 931.73 L536.41 931.67 L533.44 931.59 L530.47 931.54 L527.51 931.53 L524.54 931.53 L521.57 931.54 L518.61 931.61 L515.64 931.78 L512.67 931.98 L509.71 932.03 L506.74 931.86 L503.77 931.67 L500.81 931.56 L497.84 931.53 L494.87 931.53 L491.91 931.57 L488.94 931.72 L485.97 932.08 L483.01 932.47 L480.04 932.52 L477.07 932.17 L474.11 931.78 L471.14 931.59 L468.17 931.54 L465.21 931.54 L462.24 931.65 L459.27 932.09 L456.31 933.02 L453.34 933.97 L450.37 933.97 L447.4 933.02 L444.44 932.09 L441.47 931.65 L438.5 931.55 L435.54 931.6 L432.57 932.05 L429.6 933.7 L426.64 937.04 L423.67 940.1 L420.7 939.69 L417.74 936.29 L414.77 933.23 L411.8 931.9 L408.84 931.64 L405.87 932.17 L402.9 935.66 L399.94 947.84 L396.97 970.94 L394 989.87 L391.04 984.42 L388.07 960.9 L385.1 941.52 L382.14 933.61 L379.17 931.82 L376.2 931.87 L373.24 933.54 L370.27 939.09 L367.3 948.93 L364.34 956.05 L361.37 952.7 L358.4 942.72 L355.44 935.15 L352.47 932.25 L349.5 931.61 L346.53 931.55 L343.57 931.64 L340.6 931.93 L337.63 932.42 L334.67 932.72 L331.7 932.51 L328.73 932.02 L325.77 931.68 L322.8 931.55 L319.83 931.54 L316.87 931.63 L313.9 932.09 L310.93 933.43 L307.97 935.5 L305 936.61Z" fill="#4b91d1"/><path d="M305 931.52 L305 926.44 L307.97 927.55 L310.93 929.62 L313.9 930.96 L316.87 931.42 L319.83 931.51 L322.8 931.5 L325.77 931.37 L328.73 931.03 L331.7 930.54 L334.67 930.33 L337.63 930.63 L340.6 931.12 L343.57 931.41 L346.53 931.5 L349.5 931.44 L352.47 930.8 L355.44 927.9 L358.4 920.33 L361.37 910.35 L364.34 907 L367.3 914.12 L370.27 923.96 L373.24 929.51 L376.2 931.18 L379.17 931.23 L382.14 929.44 L385.1 921.53 L388.07 902.15 L391.04 878.63 L394 873.18 L396.97 892.11 L399.94 915.21 L402.9 927.39 L405.87 930.88 L408.84 931.41 L411.8 931.15 L414.77 929.82 L417.74 926.76 L420.7 923.36 L423.67 922.95 L426.64 926.01 L429.6 929.35 L432.57 931 L435.54 931.45 L438.5 931.5 L441.47 931.4 L444.44 930.96 L447.4 930.03 L450.37 929.08 L453.34 929.08 L456.31 930.03 L459.27 930.96 L462.24 931.4 L465.21 931.51 L468.17 931.51 L471.14 931.46 L474.11 931.27 L477.07 930.88 L480.04 930.53 L483.01 930.58 L485.97 930.97 L488.94 931.33 L491.91 931.48 L494.87 931.52 L497.84 931.52 L500.81 931.49 L503.77 931.38 L506.74 931.19 L509.71 931.02 L512.67 931.07 L515.64 931.27 L518.61 931.44 L521.57 931.51 L524.54 931.52 L527.51 931.52 L530.47 931.51 L533.44 931.46 L536.41 931.38 L539.37 931.32 L542.34 931.35 L545.31 931.43 L548.27 931.5 L551.24 931.52 L554.21 931.52 L557.18 931.52 L560.14 931.52 L563.11 931.49 L566.08 931.45 L569.04 931.43 L572.01 931.44 L574.98 931.48 L577.94 931.51 L580.91 931.52 L583.88 931.52 L586.84 931.52 L589.81 931.52 L592.78 931.51 L595.74 931.49 L598.71 931.48 L598.71 931.52" fill="none" stroke="#141414" stroke-width="4.1" stroke-linejoin="round"/><path d="M305 931.52 L305 936.61 L307.97 935.5 L310.93 933.43 L313.9 932.09 L316.87 931.63 L319.83 931.54 L322.8 931.55 L325.77 931.68 L328.73 932.02 L331.7 932.51 L334.67 932.72 L337.63 932.42 L340.6 931.93 L343.57 931.64 L346.53 931.55 L349.5 931.61 L352.47 932.25 L355.44 935.15 L358.4 942.72 L361.37 952.7 L364.34 956.05 L367.3 948.93 L370.27 939.09 L373.24 933.54 L376.2 931.87 L379.17 931.82 L382.14 933.61 L385.1 941.52 L388.07 960.9 L391.04 984.42 L394 989.87 L396.97 970.94 L399.94 947.84 L402.9 935.66 L405.87 932.17 L408.84 931.64 L411.8 931.9 L414.77 933.23 L417.74 936.29 L420.7 939.69 L423.67 940.1 L426.64 937.04 L429.6 933.7 L432.57 932.05 L435.54 931.6 L438.5 931.55 L441.47 931.65 L444.44 932.09 L447.4 933.02 L450.37 933.97 L453.34 933.97 L456.31 933.02 L459.27 932.09 L462.24 931.65 L465.21 931.54 L468.17 931.54 L471.14 931.59 L474.11 931.78 L477.07 932.17 L480.04 932.52 L483.01 932.47 L485.97 932.08 L488.94 931.72 L491.91 931.57 L494.87 931.53 L497.84 931.53 L500.81 931.56 L503.77 931.67 L506.74 931.86 L509.71 932.03 L512.67 931.98 L515.64 931.78 L518.61 931.61 L521.57 931.54 L524.54 931.53 L527.51 931.53 L530.47 931.54 L533.44 931.59 L536.41 931.67 L539.37 931.73 L542.34 931.7 L545.31 931.62 L548.27 931.55 L551.24 931.53 L554.21 931.53 L557.18 931.53 L560.14 931.53 L563.11 931.56 L566.08 931.6 L569.04 931.62 L572.01 931.61 L574.98 931.57 L577.94 931.54 L580.91 931.53 L583.88 931.53 L586.84 931.53 L589.81 931.53 L592.78 931.54 L595.74 931.56 L598.71 931.57 L598.71 931.52" fill="none" stroke="#141414" stroke-width="4.1" stroke-linejoin="round"/><path d="M305 1046.75 L307.37 1047.04 L309.75 1047.61 L312.12 1048.01 L314.49 1048.16 L316.87 1048.19 L319.24 1048.2 L321.61 1048.15 L323.99 1047.79 L326.36 1045.87 L328.73 1039.72 L331.11 1028.53 L333.48 1019.06 L335.85 1020.65 L338.23 1031.57 L340.6 1041.79 L342.97 1046.62 L345.35 1047.95 L347.72 1048.17 L350.09 1048.16 L352.47 1047.83 L354.84 1045.68 L357.22 1037.36 L359.59 1018.44 L361.96 996.05 L364.34 989.86 L366.71 1006.54 L369.08 1029.21 L371.46 1042.67 L373.83 1047.17 L376.2 1048.08 L378.58 1048.19 L380.95 1048.16 L383.32 1047.9 L385.7 1046.67 L388.07 1043.24 L390.44 1037.92 L392.82 1034.58 L395.19 1036.69 L397.56 1041.99 L399.94 1046.06 L402.31 1047.73 L404.68 1048.13 L407.06 1048.19 L409.43 1048.19 L411.8 1048.15 L414.18 1047.89 L416.55 1047.02 L418.92 1045.3 L421.3 1043.65 L423.67 1043.65 L426.04 1045.3 L428.42 1047.02 L430.79 1047.89 L433.16 1048.15 L435.54 1048.19 L437.91 1048.2 L440.28 1048.19 L442.66 1048.16 L445.03 1048.01 L447.4 1047.66 L449.78 1047.2 L452.15 1047.02 L454.53 1047.31 L456.9 1047.77 L459.27 1048.07 L461.65 1048.17 L464.02 1048.2 L466.39 1048.2 L468.77 1048.2 L471.14 1048.19 L473.51 1048.17 L475.89 1048.1 L478.26 1047.99 L480.63 1047.9 L483.01 1047.93 L485.38 1048.05 L487.75 1048.14 L490.13 1048.19 L492.5 1048.2 L494.87 1048.2 L497.25 1048.2 L499.62 1048.2 L501.99 1048.19 L504.37 1048.18 L506.74 1048.14 L509.11 1048.11 L511.49 1048.1 L513.86 1048.13 L516.23 1048.17 L518.61 1048.19 L520.98 1048.2 L523.35 1048.2 L525.73 1048.2 L528.1 1048.2 L530.47 1048.2 L532.85 1048.19 L535.22 1048.18 L537.59 1048.16 L539.97 1048.15 L539.97 1048.25 L537.59 1048.24 L535.22 1048.22 L532.85 1048.21 L530.47 1048.2 L528.1 1048.2 L525.73 1048.2 L523.35 1048.2 L520.98 1048.2 L518.61 1048.21 L516.23 1048.23 L513.86 1048.27 L511.49 1048.3 L509.11 1048.29 L506.74 1048.26 L504.37 1048.22 L501.99 1048.21 L499.62 1048.2 L497.25 1048.2 L494.87 1048.2 L492.5 1048.2 L490.13 1048.21 L487.75 1048.26 L485.38 1048.35 L483.01 1048.47 L480.63 1048.5 L478.26 1048.41 L475.89 1048.3 L473.51 1048.23 L471.14 1048.21 L468.77 1048.2 L466.39 1048.2 L464.02 1048.2 L461.65 1048.23 L459.27 1048.33 L456.9 1048.63 L454.53 1049.09 L452.15 1049.38 L449.78 1049.2 L447.4 1048.74 L445.03 1048.39 L442.66 1048.24 L440.28 1048.21 L437.91 1048.2 L435.54 1048.21 L433.16 1048.25 L430.79 1048.51 L428.42 1049.38 L426.04 1051.1 L423.67 1052.75 L421.3 1052.75 L418.92 1051.1 L416.55 1049.38 L414.18 1048.51 L411.8 1048.25 L409.43 1048.21 L407.06 1048.21 L404.68 1048.27 L402.31 1048.67 L399.94 1050.34 L397.56 1054.41 L395.19 1059.71 L392.82 1061.82 L390.44 1058.48 L388.07 1053.16 L385.7 1049.73 L383.32 1048.5 L380.95 1048.24 L378.58 1048.21 L376.2 1048.32 L373.83 1049.23 L371.46 1053.73 L369.08 1067.19 L366.71 1089.86 L364.34 1106.54 L361.96 1100.35 L359.59 1077.96 L357.22 1059.04 L354.84 1050.72 L352.47 1048.57 L350.09 1048.24 L347.72 1048.23 L345.35 1048.45 L342.97 1049.78 L340.6 1054.61 L338.23 1064.83 L335.85 1075.75 L333.48 1077.34 L331.11 1067.87 L328.73 1056.68 L326.36 1050.53 L323.99 1048.61 L321.61 1048.25 L319.24 1048.2 L316.87 1048.21 L314.49 1048.24 L312.12 1048.39 L309.75 1048.79 L307.37 1049.36 L305 1049.65Z" fill="#5aaa3c"/><path d="M305 1048.2 L305 1046.75 L307.37 1047.04 L309.75 1047.61 L312.12 1048.01 L314.49 1048.16 L316.87 1048.19 L319.24 1048.2 L321.61 1048.15 L323.99 1047.79 L326.36 1045.87 L328.73 1039.72 L331.11 1028.53 L333.48 1019.06 L335.85 1020.65 L338.23 1031.57 L340.6 1041.79 L342.97 1046.62 L345.35 1047.95 L347.72 1048.17 L350.09 1048.16 L352.47 1047.83 L354.84 1045.68 L357.22 1037.36 L359.59 1018.44 L361.96 996.05 L364.34 989.86 L366.71 1006.54 L369.08 1029.21 L371.46 1042.67 L373.83 1047.17 L376.2 1048.08 L378.58 1048.19 L380.95 1048.16 L383.32 1047.9 L385.7 1046.67 L388.07 1043.24 L390.44 1037.92 L392.82 1034.58 L395.19 1036.69 L397.56 1041.99 L399.94 1046.06 L402.31 1047.73 L404.68 1048.13 L407.06 1048.19 L409.43 1048.19 L411.8 1048.15 L414.18 1047.89 L416.55 1047.02 L418.92 1045.3 L421.3 1043.65 L423.67 1043.65 L426.04 1045.3 L428.42 1047.02 L430.79 1047.89 L433.16 1048.15 L435.54 1048.19 L437.91 1048.2 L440.28 1048.19 L442.66 1048.16 L445.03 1048.01 L447.4 1047.66 L449.78 1047.2 L452.15 1047.02 L454.53 1047.31 L456.9 1047.77 L459.27 1048.07 L461.65 1048.17 L464.02 1048.2 L466.39 1048.2 L468.77 1048.2 L471.14 1048.19 L473.51 1048.17 L475.89 1048.1 L478.26 1047.99 L480.63 1047.9 L483.01 1047.93 L485.38 1048.05 L487.75 1048.14 L490.13 1048.19 L492.5 1048.2 L494.87 1048.2 L497.25 1048.2 L499.62 1048.2 L501.99 1048.19 L504.37 1048.18 L506.74 1048.14 L509.11 1048.11 L511.49 1048.1 L513.86 1048.13 L516.23 1048.17 L518.61 1048.19 L520.98 1048.2 L523.35 1048.2 L525.73 1048.2 L528.1 1048.2 L530.47 1048.2 L532.85 1048.19 L535.22 1048.18 L537.59 1048.16 L539.97 1048.15 L539.97 1048.2" fill="none" stroke="#141414" stroke-width="4.1" stroke-linejoin="round"/><path d="M305 1048.2 L305 1049.65 L307.37 1049.36 L309.75 1048.79 L312.12 1048.39 L314.49 1048.24 L316.87 1048.21 L319.24 1048.2 L321.61 1048.25 L323.99 1048.61 L326.36 1050.53 L328.73 1056.68 L331.11 1067.87 L333.48 1077.34 L335.85 1075.75 L338.23 1064.83 L340.6 1054.61 L342.97 1049.78 L345.35 1048.45 L347.72 1048.23 L350.09 1048.24 L352.47 1048.57 L354.84 1050.72 L357.22 1059.04 L359.59 1077.96 L361.96 1100.35 L364.34 1106.54 L366.71 1089.86 L369.08 1067.19 L371.46 1053.73 L373.83 1049.23 L376.2 1048.32 L378.58 1048.21 L380.95 1048.24 L383.32 1048.5 L385.7 1049.73 L388.07 1053.16 L390.44 1058.48 L392.82 1061.82 L395.19 1059.71 L397.56 1054.41 L399.94 1050.34 L402.31 1048.67 L404.68 1048.27 L407.06 1048.21 L409.43 1048.21 L411.8 1048.25 L414.18 1048.51 L416.55 1049.38 L418.92 1051.1 L421.3 1052.75 L423.67 1052.75 L426.04 1051.1 L428.42 1049.38 L430.79 1048.51 L433.16 1048.25 L435.54 1048.21 L437.91 1048.2 L440.28 1048.21 L442.66 1048.24 L445.03 1048.39 L447.4 1048.74 L449.78 1049.2 L452.15 1049.38 L454.53 1049.09 L456.9 1048.63 L459.27 1048.33 L461.65 1048.23 L464.02 1048.2 L466.39 1048.2 L468.77 1048.2 L471.14 1048.21 L473.51 1048.23 L475.89 1048.3 L478.26 1048.41 L480.63 1048.5 L483.01 1048.47 L485.38 1048.35 L487.75 1048.26 L490.13 1048.21 L492.5 1048.2 L494.87 1048.2 L497.25 1048.2 L499.62 1048.2 L501.99 1048.21 L504.37 1048.22 L506.74 1048.26 L509.11 1048.29 L511.49 1048.3 L513.86 1048.27 L516.23 1048.23 L518.61 1048.21 L520.98 1048.2 L523.35 1048.2 L525.73 1048.2 L528.1 1048.2 L530.47 1048.2 L532.85 1048.21 L535.22 1048.22 L537.59 1048.24 L539.97 1048.25 L539.97 1048.2" fill="none" stroke="#141414" stroke-width="4.1" stroke-linejoin="round"/></g><g stroke="#808080" stroke-width="4.17" stroke-dasharray="4.17 6.875"><line x1="305" y1="1159.04" x2="305" y2="3.96"/><line x1="451.86" y1="1159.04" x2="451.86" y2="3.96"/><line x1="598.71" y1="1159.04" x2="598.71" y2="3.96"/><line x1="745.57" y1="1159.04" x2="745.57" y2="3.96"/><line x1="892.42" y1="1159.04" x2="892.42" y2="3.96"/><line x1="1039.28" y1="1159.04" x2="1039.28" y2="3.96"/><line x1="1186.13" y1="1159.04" x2="1186.13" y2="3.96"/><line x1="1332.98" y1="1159.04" x2="1332.98" y2="3.96"/></g><g stroke="#000" stroke-width="2.1"><line x1="716.19" y1="114.8" x2="1362.36" y2="114.8"/><line x1="716.19" y1="85.63" x2="716.19" y2="143.97"/><line x1="1362.36" y1="85.63" x2="1362.36" y2="143.97"/><line x1="951.16" y1="85.63" x2="951.16" y2="143.97"/><line x1="539.97" y1="231.47" x2="1009.9" y2="231.47"/><line x1="539.97" y1="202.31" x2="539.97" y2="260.64"/><line x1="1009.9" y1="202.31" x2="1009.9" y2="260.64"/><line x1="745.57" y1="202.31" x2="745.57" y2="260.64"/><line x1="363.74" y1="348.15" x2="804.31" y2="348.15"/><line x1="363.74" y1="318.98" x2="363.74" y2="377.32"/><line x1="804.31" y1="318.98" x2="804.31" y2="377.32"/><line x1="598.71" y1="318.98" x2="598.71" y2="377.32"/><line x1="305" y1="464.82" x2="598.71" y2="464.82"/><line x1="305" y1="435.66" x2="305" y2="493.99"/><line x1="598.71" y1="435.66" x2="598.71" y2="493.99"/><line x1="451.86" y1="435.66" x2="451.86" y2="493.99"/><line x1="305" y1="581.5" x2="863.05" y2="581.5"/><line x1="305" y1="552.33" x2="305" y2="610.67"/><line x1="863.05" y1="552.33" x2="863.05" y2="610.67"/><line x1="451.86" y1="552.33" x2="451.86" y2="610.67"/><line x1="305" y1="698.17" x2="716.19" y2="698.17"/><line x1="305" y1="669.01" x2="305" y2="727.34"/><line x1="716.19" y1="669.01" x2="716.19" y2="727.34"/><line x1="393.11" y1="669.01" x2="393.11" y2="727.34"/><line x1="305" y1="814.85" x2="510.6" y2="814.85"/><line x1="305" y1="785.68" x2="305" y2="844.02"/><line x1="510.6" y1="785.68" x2="510.6" y2="844.02"/><line x1="393.11" y1="785.68" x2="393.11" y2="844.02"/><line x1="305" y1="931.52" x2="598.71" y2="931.52"/><line x1="305" y1="902.36" x2="305" y2="960.69"/><line x1="598.71" y1="902.36" x2="598.71" y2="960.69"/><line x1="393.11" y1="902.36" x2="393.11" y2="960.69"/><line x1="305" y1="1048.2" x2="539.97" y2="1048.2"/><line x1="305" y1="1019.03" x2="305" y2="1077.37"/><line x1="539.97" y1="1019.03" x2="539.97" y2="1077.37"/><line x1="363.74" y1="1019.03" x2="363.74" y2="1077.37"/></g><line x1="252.45" y1="2.29" x2="252.45" y2="1158.9" stroke="#000" stroke-width="3.33"/><line x1="250.78" y1="1158.9" x2="1416.89" y2="1158.9" stroke="#000" stroke-width="3.33"/><g stroke="#000" stroke-width="3.33"><line x1="305" y1="1158.9" x2="305" y2="1173.48"/><line x1="451.86" y1="1158.9" x2="451.86" y2="1173.48"/><line x1="598.71" y1="1158.9" x2="598.71" y2="1173.48"/><line x1="745.57" y1="1158.9" x2="745.57" y2="1173.48"/><line x1="892.42" y1="1158.9" x2="892.42" y2="1173.48"/><line x1="1039.28" y1="1158.9" x2="1039.28" y2="1173.48"/><line x1="1186.13" y1="1158.9" x2="1186.13" y2="1173.48"/><line x1="1332.98" y1="1158.9" x2="1332.98" y2="1173.48"/><line x1="252.45" y1="114.8" x2="237.87" y2="114.8"/><line x1="252.45" y1="231.47" x2="237.87" y2="231.47"/><line x1="252.45" y1="348.15" x2="237.87" y2="348.15"/><line x1="252.45" y1="464.82" x2="237.87" y2="464.82"/><line x1="252.45" y1="581.5" x2="237.87" y2="581.5"/><line x1="252.45" y1="698.17" x2="237.87" y2="698.17"/><line x1="252.45" y1="814.85" x2="237.87" y2="814.85"/><line x1="252.45" y1="931.52" x2="237.87" y2="931.52"/><line x1="252.45" y1="1048.2" x2="237.87" y2="1048.2"/></g><g stroke="#000" stroke-width="2.5"><line x1="275.63" y1="1158.9" x2="275.63" y2="1167.23"/><line x1="334.37" y1="1158.9" x2="334.37" y2="1167.23"/><line x1="363.74" y1="1158.9" x2="363.74" y2="1167.23"/><line x1="393.11" y1="1158.9" x2="393.11" y2="1167.23"/><line x1="422.48" y1="1158.9" x2="422.48" y2="1167.23"/><line x1="481.23" y1="1158.9" x2="481.23" y2="1167.23"/><line x1="510.6" y1="1158.9" x2="510.6" y2="1167.23"/><line x1="539.97" y1="1158.9" x2="539.97" y2="1167.23"/><line x1="569.34" y1="1158.9" x2="569.34" y2="1167.23"/><line x1="628.08" y1="1158.9" x2="628.08" y2="1167.23"/><line x1="657.45" y1="1158.9" x2="657.45" y2="1167.23"/><line x1="686.82" y1="1158.9" x2="686.82" y2="1167.23"/><line x1="716.19" y1="1158.9" x2="716.19" y2="1167.23"/><line x1="774.94" y1="1158.9" x2="774.94" y2="1167.23"/><line x1="804.31" y1="1158.9" x2="804.31" y2="1167.23"/><line x1="833.68" y1="1158.9" x2="833.68" y2="1167.23"/><line x1="863.05" y1="1158.9" x2="863.05" y2="1167.23"/><line x1="921.79" y1="1158.9" x2="921.79" y2="1167.23"/><line x1="951.16" y1="1158.9" x2="951.16" y2="1167.23"/><line x1="980.53" y1="1158.9" x2="980.53" y2="1167.23"/><line x1="1009.9" y1="1158.9" x2="1009.9" y2="1167.23"/><line x1="1068.65" y1="1158.9" x2="1068.65" y2="1167.23"/><line x1="1098.02" y1="1158.9" x2="1098.02" y2="1167.23"/><line x1="1127.39" y1="1158.9" x2="1127.39" y2="1167.23"/><line x1="1156.76" y1="1158.9" x2="1156.76" y2="1167.23"/><line x1="1215.5" y1="1158.9" x2="1215.5" y2="1167.23"/><line x1="1244.87" y1="1158.9" x2="1244.87" y2="1167.23"/><line x1="1274.24" y1="1158.9" x2="1274.24" y2="1167.23"/><line x1="1303.61" y1="1158.9" x2="1303.61" y2="1167.23"/><line x1="1362.36" y1="1158.9" x2="1362.36" y2="1167.23"/><line x1="1391.73" y1="1158.9" x2="1391.73" y2="1167.23"/></g><g font-family="Liberation Sans, sans-serif" fill="#000"><text transform="translate(1098.89 453.13) scale(1.0637 1)" font-size="67.04">Start</text><text transform="translate(1098.64 523.14) scale(1.0592 1)" font-size="65.58">Location</text><text transform="translate(1231.34 634.32) scale(0.8679 1)" font-size="57.75">SS</text><text transform="translate(1231.67 722.42) scale(0.8963 1)" font-size="57.75">SW</text><text transform="translate(1231.83 809.42) scale(0.8346 1)" font-size="57.75">SE</text><text transform="translate(1231.03 896.6) scale(0.9533 1)" font-size="57.25">NW</text><text transform="translate(1230.89 984) scale(0.9091 1)" font-size="56.52">NE</text><text transform="translate(1230.83 1072.42) scale(0.9018 1)" font-size="57.75">NC</text><text transform="translate(171.2 130.36) scale(0.8582 1)" font-size="44.08">SE</text><text transform="translate(156.09 247.05) scale(0.9059 1)" font-size="44.51">SW</text><text transform="translate(163.63 363.96) scale(0.9203 1)" font-size="44.37">NC</text><text transform="translate(197.39 480.66) scale(0.8573 1)" font-size="44.23">S</text><text transform="translate(151.54 597.4) scale(0.9492 1)" font-size="44.2">NW</text><text transform="translate(133.23 714.06) scale(0.9884 1)" font-size="43.86">Rest</text><text transform="translate(166.71 831) scale(0.8972 1)" font-size="44.49">NE</text><text transform="translate(163.63 947.86) scale(0.9203 1)" font-size="44.37">NC</text><text transform="translate(79.38 1063.87) scale(1.0799 1)" font-size="42.99">nigeria</text><text transform="translate(286.33 1236.04) scale(1.0071 1)" font-size="66.2">0</text><text transform="translate(435.56 1236.04) scale(0.9291 1)" font-size="65.71">5</text><text transform="translate(561.98 1236.04) scale(1.0121 1)" font-size="66.2">10</text><text transform="translate(709.03 1236.03) scale(0.9879 1)" font-size="67.14">15</text><text transform="translate(853.59 1236.04) scale(1.0317 1)" font-size="66.2">20</text><text transform="translate(1000.62 1236.04) scale(1.0219 1)" font-size="66.2">25</text><text transform="translate(1149.29 1236.04) scale(1.0217 1)" font-size="66.2">30</text><text transform="translate(1296.36 1236.04) scale(0.9973 1)" font-size="66.2">35</text><text transform="translate(453.27 1313.73) scale(1.1041 1)" font-size="64.86">Number of introductions</text><text transform="translate(48.83 774.6) rotate(-90) scale(1.0786 1)" font-size="64.86">End location</text></g><circle cx="1186.05" cy="610.9" r="29.17" fill="#1b1670" stroke="#000" stroke-width="4.17"/><circle cx="1186.05" cy="698.4" r="29.17" fill="#3a931e" stroke="#000" stroke-width="4.17"/><circle cx="1186.05" cy="785.9" r="29.17" fill="#3c7bc0" stroke="#000" stroke-width="4.17"/><circle cx="1186.05" cy="873.4" r="29.17" fill="#ecdf38" stroke="#000" stroke-width="4.17"/><circle cx="1186.05" cy="960.9" r="29.17" fill="#f75823" stroke="#000" stroke-width="4.17"/><circle cx="1186.05" cy="1048.4" r="29.17" fill="#98141e" stroke="#000" stroke-width="4.17"/></svg></body></html>
